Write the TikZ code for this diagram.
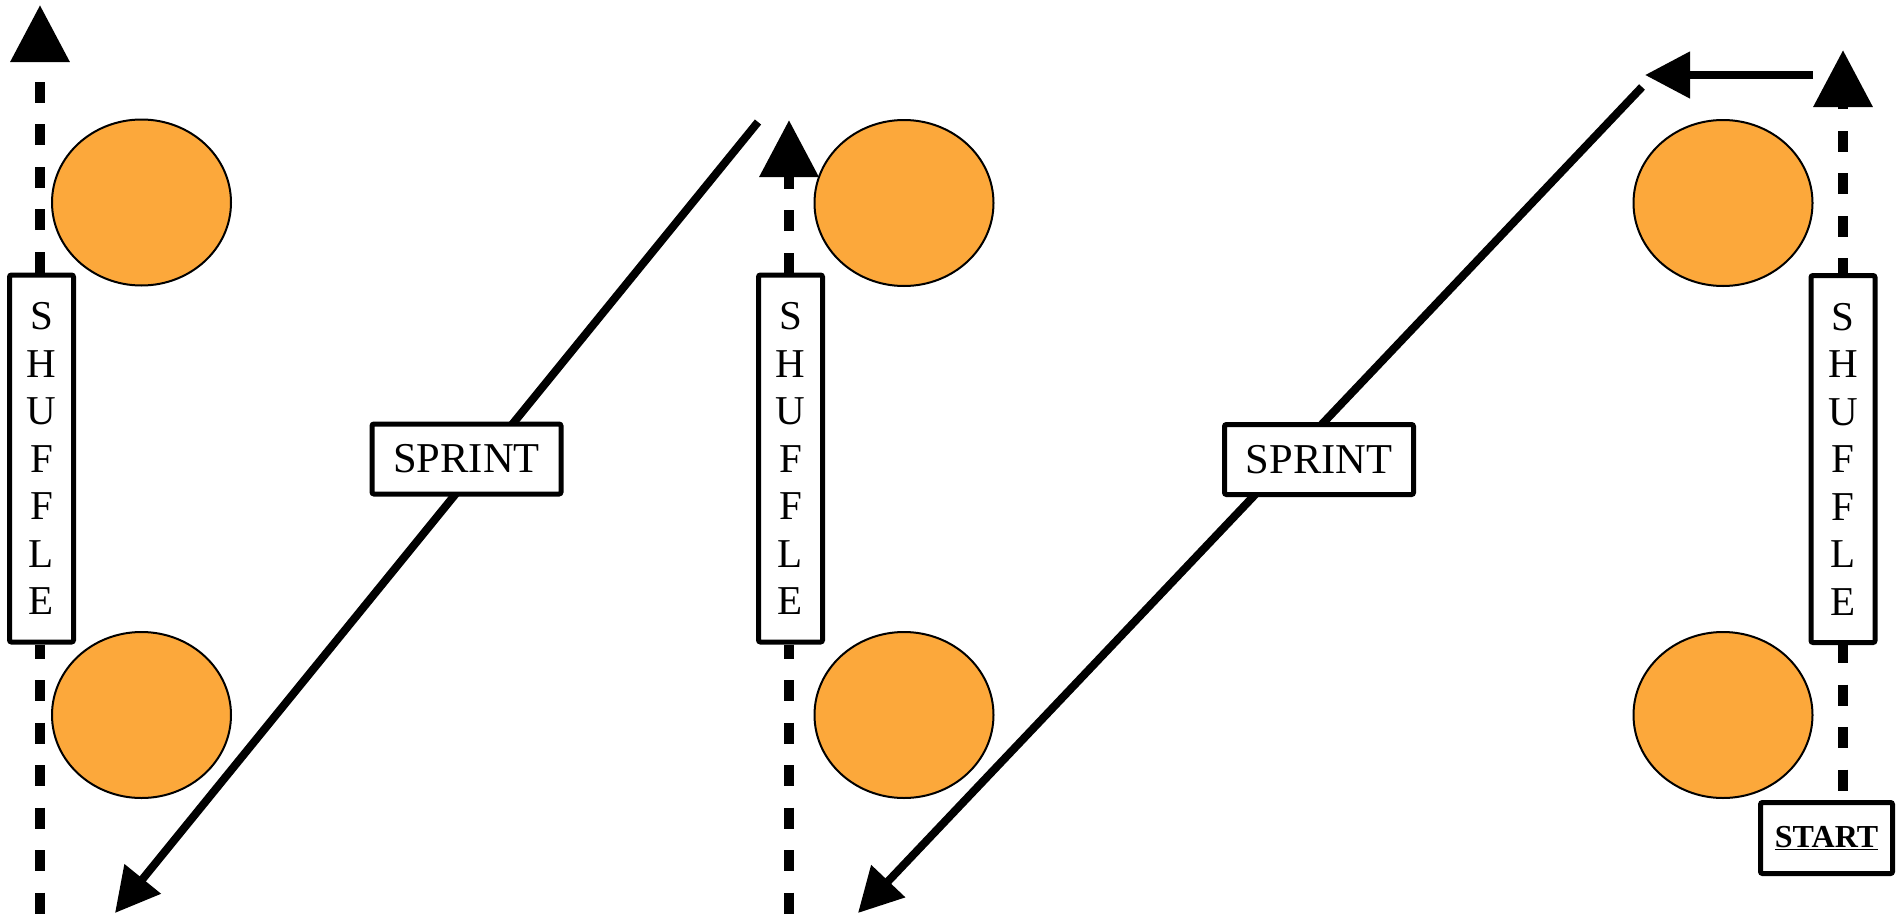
\documentclass[tikz,border=0pt]{standalone}
\usepackage{fontspec}
\setmainfont{Liberation Serif}
\usetikzlibrary{arrows.meta,shapes.geometric}
\definecolor{conecol}{RGB}{252,168,59}
\begin{document}
\begin{tikzpicture}[x=1pt,y=-1pt,
  cone/.style={ellipse, draw=black, line width=2pt, fill=conecol, minimum width=179pt, minimum height=166pt, inner sep=0pt},
  labelbox/.style={rectangle, draw=black, line width=5pt, fill=white, rounded corners=2pt, inner sep=0pt},
  shufflebox/.style={labelbox, minimum width=64pt, minimum height=367pt, align=center, font=\fontsize{41}{47.5}\selectfont},
  sprintbox/.style={labelbox, minimum width=189pt, minimum height=70pt, font=\fontsize{42.5}{48}\selectfont},
  startbox/.style={labelbox, minimum width=132pt, minimum height=71pt, font=\fontsize{32}{38}\selectfont\bfseries},
  vdash/.style={line width=10pt, dash pattern=on 21pt off 21.5pt},
  vtip/.style={-{Triangle[length=57pt,width=57pt]}},
  sline/.style={line width=8pt},
  stip/.style={-{Triangle[length=44pt,width=45pt]}}
]
\useasboundingbox (0,0) rectangle (1904,916);

% cones
\node[cone] (c1) at (141.5,202.5) {};
\node[cone] (c2) at (141.5,715) {};
\node[cone] (c3) at (904,203) {};
\node[cone] (c4) at (904,715) {};
\node[cone] (c5) at (1723,203) {};
\node[cone] (c6) at (1723,715) {};

% free ends
\coordinate (t1) at (40,5);
\coordinate (b1) at (40,916);
\coordinate (t2) at (789,120);
\coordinate (b2) at (789,916);
\coordinate (t3) at (1843,50);
\coordinate (h1) at (1813,75);
\coordinate (h2) at (1645,75);
\coordinate (d1s) at (758,122);
\coordinate (d1e) at (115,913);
\coordinate (d2s) at (1642,87);
\coordinate (d2e) at (858,913);

% sprint lines
\draw[sline, stip] (d1s) -- (d1e);
\draw[sline, stip] (d2s) -- (d2e);
\draw[sline, -{Triangle[length=45pt,width=45pt]}] (h1) -- (h2);

% boxes
\node[sprintbox] (sp1) at (466.5,459) {SPRINT};
\node[sprintbox] (sp2) at (1319,459.5) {SPRINT};
\node[shufflebox] (s1) at (41.5,458.5) {S\\H\\U\\F\\F\\L\\E};
\node[shufflebox] (s2) at (790.5,458.5) {S\\H\\U\\F\\F\\L\\E};
\node[shufflebox] (s3) at (1843,459) {S\\H\\U\\F\\F\\L\\E};
\node[startbox] (st) at (1826.5,838) {\underline{START}};

% shuffle dashed lines
\draw[vdash, vtip] (s1.north -| t1) -- (t1);
\draw[vdash, dash phase=7pt] (s1.south -| b1) -- (b1);
\draw[vdash, vtip, dash phase=1pt] (s2.north -| t2) -- (t2);
\draw[vdash, dash phase=7pt] (s2.south -| b2) -- (b2);
\draw[vdash, vtip, dash phase=6pt] (s3.north) -- (t3);
\draw[vdash, dash phase=3pt] (s3.south) -- (s3.south |- st.north);
\end{tikzpicture}
\end{document}
